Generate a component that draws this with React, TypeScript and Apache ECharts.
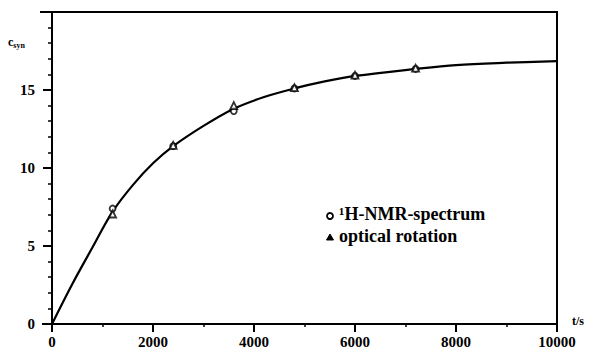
import React, { useEffect, useRef } from "react";
import * as echarts from "echarts";

// fitted curve (t in s, c_syn)
const curveT = [0, 400, 800, 1200, 1600, 2000, 2400, 3000, 3600, 4200, 4800, 5400, 6000, 7200, 8000, 9000, 10000];
const curveC = [0, 2.55, 4.9, 7.2, 8.9, 10.3, 11.4, 12.7, 13.8, 14.55, 15.1, 15.55, 15.9, 16.35, 16.6, 16.75, 16.85];

// measured points
const measT = [1200, 2400, 3600, 4800, 6000, 7200];
const nmrC = [7.4, 11.4, 13.65, 15.1, 15.9, 16.35];
const optC = [7.05, 11.45, 14.0, 15.15, 15.95, 16.4];

const legendNames = ["\u00b9H-NMR-spectrum", "optical rotation"];

const FONT = "'Liberation Serif', 'DejaVu Serif', serif";

export default function App() {
  const ref = useRef<HTMLDivElement>(null);
  useEffect(() => {
    if (!ref.current) return;
    const chart = echarts.init(ref.current, null, { renderer: "svg" });
    const L = 52, R = 557, T = 12, B = 324;
    chart.setOption({
      animation: false,
      backgroundColor: "#fff",
      grid: {
        left: L, right: 598 - R, top: T, bottom: 355 - B,
        show: true, borderColor: "#000", borderWidth: 2, backgroundColor: "transparent",
      },
      xAxis: {
        type: "value", min: 0, max: 10000, interval: 2000,
        axisLine: { show: true, lineStyle: { color: "#000", width: 2 } },
        axisTick: { show: true, inside: false, length: 8, lineStyle: { color: "#000", width: 2 } },
        minorTick: { show: true, splitNumber: 2, length: 3, lineStyle: { color: "#000", width: 1.5 } },
        splitLine: { show: false },
        axisLabel: {
          color: "#000", fontFamily: FONT, fontWeight: "bold", fontSize: 15, margin: 10,
          formatter: (v: number) => String(v),
        },
      },
      yAxis: {
        type: "value", min: 0, max: 20, interval: 5,
        axisLine: { show: true, lineStyle: { color: "#000", width: 2 } },
        axisTick: { show: true, inside: false, length: 9, lineStyle: { color: "#000", width: 2 } },
        minorTick: { show: true, splitNumber: 5, length: 4, lineStyle: { color: "#000", width: 1.5 } },
        splitLine: { show: false },
        axisLabel: {
          color: "#000", fontFamily: FONT, fontWeight: "bold", fontSize: 15, margin: 17,
          formatter: (v: number) => (v === 20 ? "" : String(v)),
        },
      },
      series: [
        {
          type: "line",
          data: curveT.map((t, i) => [t, curveC[i]]),
          smooth: 0.35,
          showSymbol: false,
          lineStyle: { color: "#000", width: 2.2 },
          z: 2,
        },
        {
          name: legendNames[0],
          type: "scatter",
          data: measT.map((t, i) => [t, nmrC[i]]),
          symbol: "circle",
          symbolSize: 6,
          itemStyle: { color: "#fff", borderColor: "#000", borderWidth: 1.8 },
          z: 3,
        },
        {
          name: legendNames[1],
          type: "scatter",
          data: measT.map((t, i) => [t, optC[i]]),
          symbol: "triangle",
          symbolSize: 7,
          itemStyle: { color: "#fff", borderColor: "#000", borderWidth: 1.8 },
          z: 3,
        },
      ],
      graphic: [
        { type: "line", shape: { x1: 40, y1: T, x2: L, y2: T }, style: { stroke: "#000", lineWidth: 2 } },
        { type: "line", shape: { x1: 42, y1: B, x2: L, y2: B }, style: { stroke: "#000", lineWidth: 2 } },
        {
          type: "text", left: 8, top: 36,
          style: {
            text: "{c|c}{s|syn}",
            rich: {
              c: { fontFamily: FONT, fontWeight: "bold", fontSize: 12, fill: "#000" },
              s: { fontFamily: FONT, fontWeight: "bold", fontSize: 8, fill: "#000", padding: [6, 0, 0, 0] },
            },
          },
        },
        {
          type: "text", left: 572, top: 315,
          style: { text: "t/s", fontFamily: FONT, fontWeight: "bold", fontSize: 12, fill: "#000" },
        },
        { type: "circle", shape: { cx: 330, cy: 216, r: 3 }, style: { fill: "#fff", stroke: "#000", lineWidth: 1.8 } },
        {
          type: "text", left: 339, top: 205,
          style: { text: legendNames[0], fontFamily: FONT, fontWeight: "bold", fontSize: 18, fill: "#000" },
        },
        { type: "polygon", shape: { points: [[330, 234], [326.5, 240], [333.5, 240]] }, style: { fill: "#000", stroke: "#000", lineWidth: 1 } },
        {
          type: "text", left: 339, top: 227,
          style: { text: legendNames[1], fontFamily: FONT, fontWeight: "bold", fontSize: 18, fill: "#000" },
        },
      ],
    });
    return () => chart.dispose();
  }, []);
  return <div ref={ref} style={{ width: 598, height: 355, margin: -8 }} />;
}
